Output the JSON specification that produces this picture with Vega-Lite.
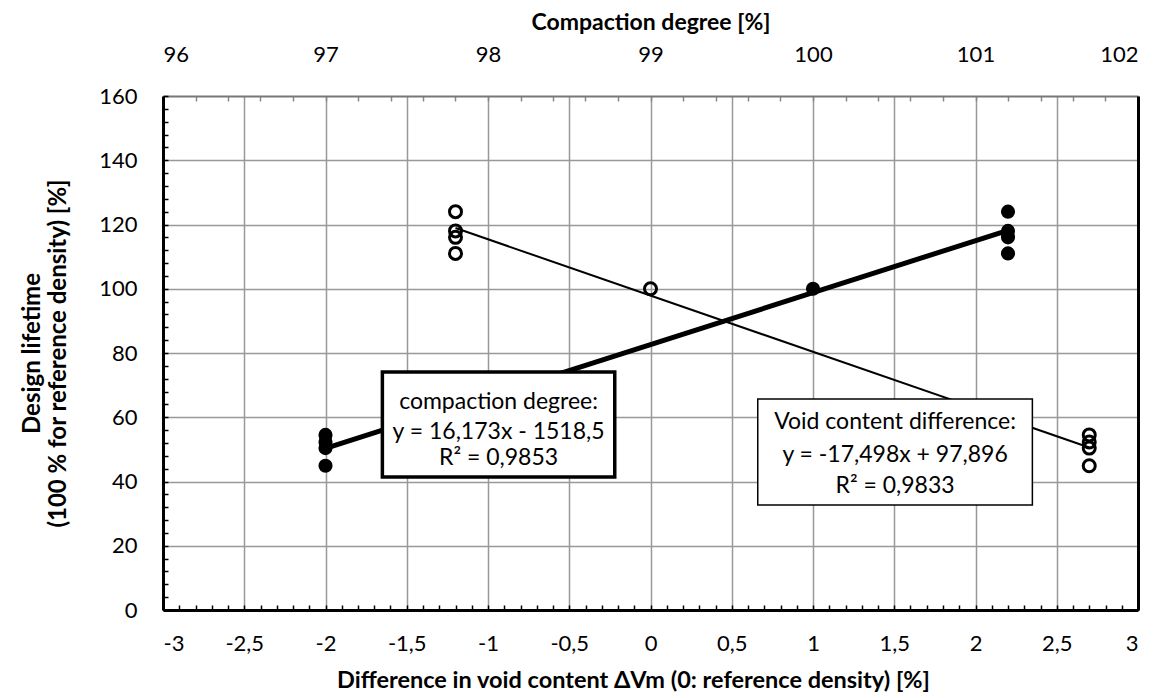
{
  "$schema": "https://vega.github.io/schema/vega-lite/v6.json",
  "width": 975,
  "height": 514,
  "autosize": "none",
  "padding": {"left": 163, "top": 96, "right": 25, "bottom": 88},
  "background": "white",
  "config": {
    "view": {"stroke": null},
    "font": "Lato",
    "axis": {"labelFont": "Lato", "titleFont": "Lato", "labelColor": "black", "titleColor": "black"},
    "text": {"font": "Lato"}
  },
  "datasets": {
    "voidPts": [
      {"x": -1.2, "y": 124}, {"x": -1.2, "y": 118}, {"x": -1.2, "y": 116}, {"x": -1.2, "y": 111},
      {"x": 0, "y": 100},
      {"x": 2.7, "y": 54.5}, {"x": 2.7, "y": 52.3}, {"x": 2.7, "y": 50.4}, {"x": 2.7, "y": 44.9}
    ],
    "voidLine": [{"x": -1.2, "y": 118.9}, {"x": 2.7, "y": 50.6}],
    "voidBox": [{"x": 0.66, "x2": 2.35, "y": 32.7, "y2": 65.7}],
    "voidText": [
      {"x": 1.505, "y": 58.5, "t": "Void content difference:"},
      {"x": 1.505, "y": 48.2, "t": "y = -17,498x + 97,896"},
      {"x": 1.505, "y": 38.6, "t": "R² = 0,9833"}
    ],
    "compPts": [
      {"c": 97, "y": 54.5}, {"c": 97, "y": 52.3}, {"c": 97, "y": 50.4}, {"c": 97, "y": 44.9},
      {"c": 100, "y": 100},
      {"c": 101.2, "y": 124}, {"c": 101.2, "y": 118}, {"c": 101.2, "y": 116}, {"c": 101.2, "y": 111}
    ],
    "compLine": [{"c": 97, "y": 50.3}, {"c": 101.2, "y": 118.2}],
    "compBox": [{"c": 97.35, "c2": 98.78, "y": 41.4, "y2": 74.1}],
    "compText": [
      {"c": 98.065, "y": 64.7, "t": "compaction degree:"},
      {"c": 98.065, "y": 55.4, "t": "y = 16,173x - 1518,5"},
      {"c": 98.065, "y": 47.3, "t": "R² = 0,9853"}
    ]
  },
  "layer": [
    {
      "encoding": {
        "x": {
          "field": "x", "type": "quantitative",
          "scale": {"domain": [-3, 3], "nice": false, "zero": false},
          "axis": {
            "orient": "bottom",
            "values": [-3,-2.9,-2.8,-2.7,-2.6,-2.5,-2.4,-2.3,-2.2,-2.1,-2,-1.9,-1.8,-1.7,-1.6,-1.5,-1.4,-1.3,-1.2,-1.1,-1,-0.9,-0.8,-0.7,-0.6,-0.5,-0.4,-0.3,-0.2,-0.1,0,0.1,0.2,0.3,0.4,0.5,0.6,0.7,0.8,0.9,1,1.1,1.2,1.3,1.4,1.5,1.6,1.7,1.8,1.9,2,2.1,2.2,2.3,2.4,2.5,2.6,2.7,2.8,2.9,3],
            "labelExpr": "abs(datum.value*2 - round(datum.value*2)) < 0.01 ? (datum.value < 0 ? '-' : '') + replace(format(abs(datum.value), '~g'), '.', ',') : ''",
            "labelOverlap": false,
            "labelFontSize": 22,
            "labelPadding": 28,
            "tickSize": -5,
            "tickColor": "black",
            "tickWidth": 1.5,
            "domainColor": "black",
            "domainWidth": 3,
            "grid": true,
            "gridColor": "#999999",
            "gridWidth": 1.5,
            "gridOpacity": {"condition": {"test": "abs(datum.value*2 - round(datum.value*2)) < 0.01 && abs(datum.value) < 2.99", "value": 1}, "value": 0},
            "title": "Difference in void content ΔVm (0: reference density) [%]",
            "titleFontSize": 23.5,
            "titleFontWeight": "bold",
            "titlePadding": 14,
            "titleX": 470
          }
        },
        "y": {
          "field": "y", "type": "quantitative",
          "scale": {"domain": [0, 160], "nice": false, "zero": false},
          "axis": {
            "orient": "left",
            "values": [0,4,8,12,16,20,24,28,32,36,40,44,48,52,56,60,64,68,72,76,80,84,88,92,96,100,104,108,112,116,120,124,128,132,136,140,144,148,152,156,160],
            "labelExpr": "datum.value % 20 === 0 ? datum.label : ''",
            "labelOverlap": false,
            "labelFontSize": 22,
            "labelPadding": 31,
            "tickSize": -5,
            "tickColor": "black",
            "tickWidth": 1.5,
            "domainColor": "black",
            "domainWidth": 3,
            "grid": true,
            "gridColor": "#999999",
            "gridWidth": 1.5,
            "gridOpacity": {"condition": {"test": "datum.value % 20 === 0 && datum.value > 0 && datum.value < 160", "value": 1}, "value": 0},
            "title": ["Design lifetime", "(100 % for reference density) [%]"],
            "titleFontSize": 24,
            "titleFontWeight": "bold",
            "titleLineHeight": 26,
            "titlePadding": 28
          }
        }
      },
      "layer": [
        {
          "data": {"name": "voidLine"},
          "mark": {"type": "line", "color": "black", "strokeWidth": 2}
        },
        {
          "data": {"name": "voidPts"},
          "mark": {"type": "point", "shape": "circle", "filled": false, "stroke": "black", "strokeWidth": 3, "size": 144, "opacity": 1}
        },
        {
          "data": {"name": "voidBox"},
          "mark": {"type": "rect", "fill": "white", "stroke": "black", "strokeWidth": 1.5},
          "encoding": {"x2": {"field": "x2"}, "y2": {"field": "y2"}}
        },
        {
          "data": {"name": "voidText"},
          "mark": {"type": "text", "fontSize": 23, "color": "black", "align": "center", "baseline": "middle"},
          "encoding": {"text": {"field": "t"}}
        }
      ]
    },
    {
      "encoding": {
        "x": {
          "field": "c", "type": "quantitative",
          "scale": {"domain": [96, 102], "nice": false, "zero": false},
          "axis": {
            "orient": "top",
            "values": [96,96.2,96.4,96.6,96.8,97,97.2,97.4,97.6,97.8,98,98.2,98.4,98.6,98.8,99,99.2,99.4,99.6,99.8,100,100.2,100.4,100.6,100.8,101,101.2,101.4,101.6,101.8,102],
            "labelExpr": "abs(datum.value - round(datum.value)) < 0.01 ? format(datum.value, '~g') : ''",
            "labelOverlap": false,
            "labelFontSize": 22,
            "labelPadding": 35,
            "tickSize": -5,
            "tickColor": "#888888",
            "tickWidth": 1.5,
            "domainColor": "#777777",
            "domainWidth": 2,
            "grid": false,
            "title": "Compaction degree [%]",
            "titleFontSize": 23,
            "titleFontWeight": "bold",
            "titlePadding": 9
          }
        },
        "y": {
          "field": "y", "type": "quantitative",
          "scale": {"domain": [0, 160], "nice": false, "zero": false},
          "axis": {
            "orient": "right",
            "labels": false,
            "ticks": false,
            "grid": false,
            "domainColor": "black",
            "domainWidth": 3,
            "title": null
          }
        }
      },
      "layer": [
        {
          "data": {"name": "compLine"},
          "mark": {"type": "line", "color": "black", "strokeWidth": 5}
        },
        {
          "data": {"name": "compPts"},
          "mark": {"type": "circle", "color": "black", "size": 200, "opacity": 1}
        },
        {
          "data": {"name": "compBox"},
          "mark": {"type": "rect", "fill": "white", "stroke": "black", "strokeWidth": 3.5},
          "encoding": {"x2": {"field": "c2"}, "y2": {"field": "y2"}}
        },
        {
          "data": {"name": "compText"},
          "mark": {"type": "text", "fontSize": 23, "color": "black", "align": "center", "baseline": "middle"},
          "encoding": {"text": {"field": "t"}}
        }
      ]
    }
  ],
  "resolve": {
    "scale": {"x": "independent"},
    "axis": {"x": "independent", "y": "independent"}
  }
}
